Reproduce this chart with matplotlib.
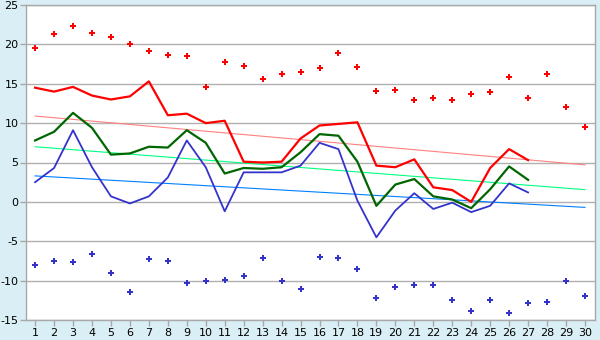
import matplotlib
matplotlib.use("Agg")
import matplotlib.pyplot as plt

plt.rcParams["axes.unicode_minus"] = False

# Days of the month
days = list(range(1, 31))

# Daily extremes (points)
abs_max = [19.6, 21.3, 22.3, 21.4, 21.0, 20.0, 19.2, 18.7, 18.5, 14.6,
           17.8, 17.3, 15.6, 16.3, 16.5, 17.0, 18.9, 17.1, 14.1, 14.2,
           13.0, 13.2, 12.9, 13.7, 13.9, 15.9, 13.2, 16.3, 12.0, 9.5]
abs_min = [-8.0, -7.5, -7.6, -6.6, -9.0, -11.4, -7.2, -7.5, -10.25, -10.0,
           -9.9, -9.4, -7.1, -10.1, -11.1, -7.0, -7.1, -8.5, -12.2, -10.8,
           -10.5, -10.5, -12.5, -13.9, -12.5, -14.05, -12.8, -12.7, -10.0, -12.0]

# Observed daily values (first 27 days)
obs_days = list(range(1, 28))
obs_max = [14.5, 14.0, 14.6, 13.5, 13.0, 13.4, 15.3, 11.0, 11.2, 10.0,
           10.3, 5.1, 5.0, 5.1, 8.05, 9.7, 9.9, 10.1, 4.6, 4.4,
           5.4, 1.85, 1.5, 0.0, 4.3, 6.7, 5.3]
obs_mean = [7.8, 8.9, 11.3, 9.4, 6.0, 6.15, 7.0, 6.9, 9.1, 7.5,
            3.6, 4.3, 4.2, 4.4, 6.3, 8.6, 8.4, 5.1, -0.5, 2.2,
            2.9, 0.7, 0.3, -0.8, 1.6, 4.5, 2.8]
obs_min = [2.5, 4.3, 9.1, 4.4, 0.7, -0.2, 0.7, 3.1, 7.8, 4.4,
           -1.2, 3.75, 3.75, 3.75, 4.6, 7.5, 6.7, 0.15, -4.5, -1.1,
           1.1, -0.9, -0.1, -1.3, -0.5, 2.35, 1.2]

# Normals at the first and last day
normal_days = [1, 30]
normal_max = [10.9, 4.7]
normal_mean = [7.0, 1.55]
normal_min = [3.3, -0.7]

fig = plt.figure(figsize=(6, 3.4), dpi=100, facecolor="#daeff5")
ax = fig.add_axes([26 / 600, 1 - 320 / 340, 569 / 600, 315 / 340])
ax.set_facecolor("white")

ax.set_xlim(0.52, 30.53)
ax.set_ylim(-15, 25)
ax.set_yticks(range(-15, 30, 5))
ax.set_xticks(days)
ax.grid(axis="y", color="#b0b0b0", linewidth=1.0)
ax.set_axisbelow(True)
for side in ax.spines.values():
    side.set_color("#a8a8a8")
    side.set_linewidth(1.0)
ax.tick_params(axis="both", colors="#a8a8a8", labelcolor="black",
               labelsize=8, length=4, width=1.0, pad=1.5)

# Normals
ax.plot(normal_days, normal_max, color="#ff8080", linewidth=0.8)
ax.plot(normal_days, normal_mean, color="#00ff80", linewidth=0.8)
ax.plot(normal_days, normal_min, color="#0080ff", linewidth=0.8)

# Observed lines
ax.plot(obs_days, obs_max, color="#ff0000", linewidth=1.6)
ax.plot(obs_days, obs_mean, color="#006600", linewidth=1.6)
ax.plot(obs_days, obs_min, color="#3333cc", linewidth=1.3)

# Extremes
ax.plot(days, abs_max, linestyle="none", marker="P", markersize=5,
        color="#ff0000", markeredgewidth=0)
ax.plot(days, abs_min, linestyle="none", marker="P", markersize=5,
        color="#3333cc", markeredgewidth=0)

fig.savefig("out.png", dpi=100, facecolor=fig.get_facecolor())
